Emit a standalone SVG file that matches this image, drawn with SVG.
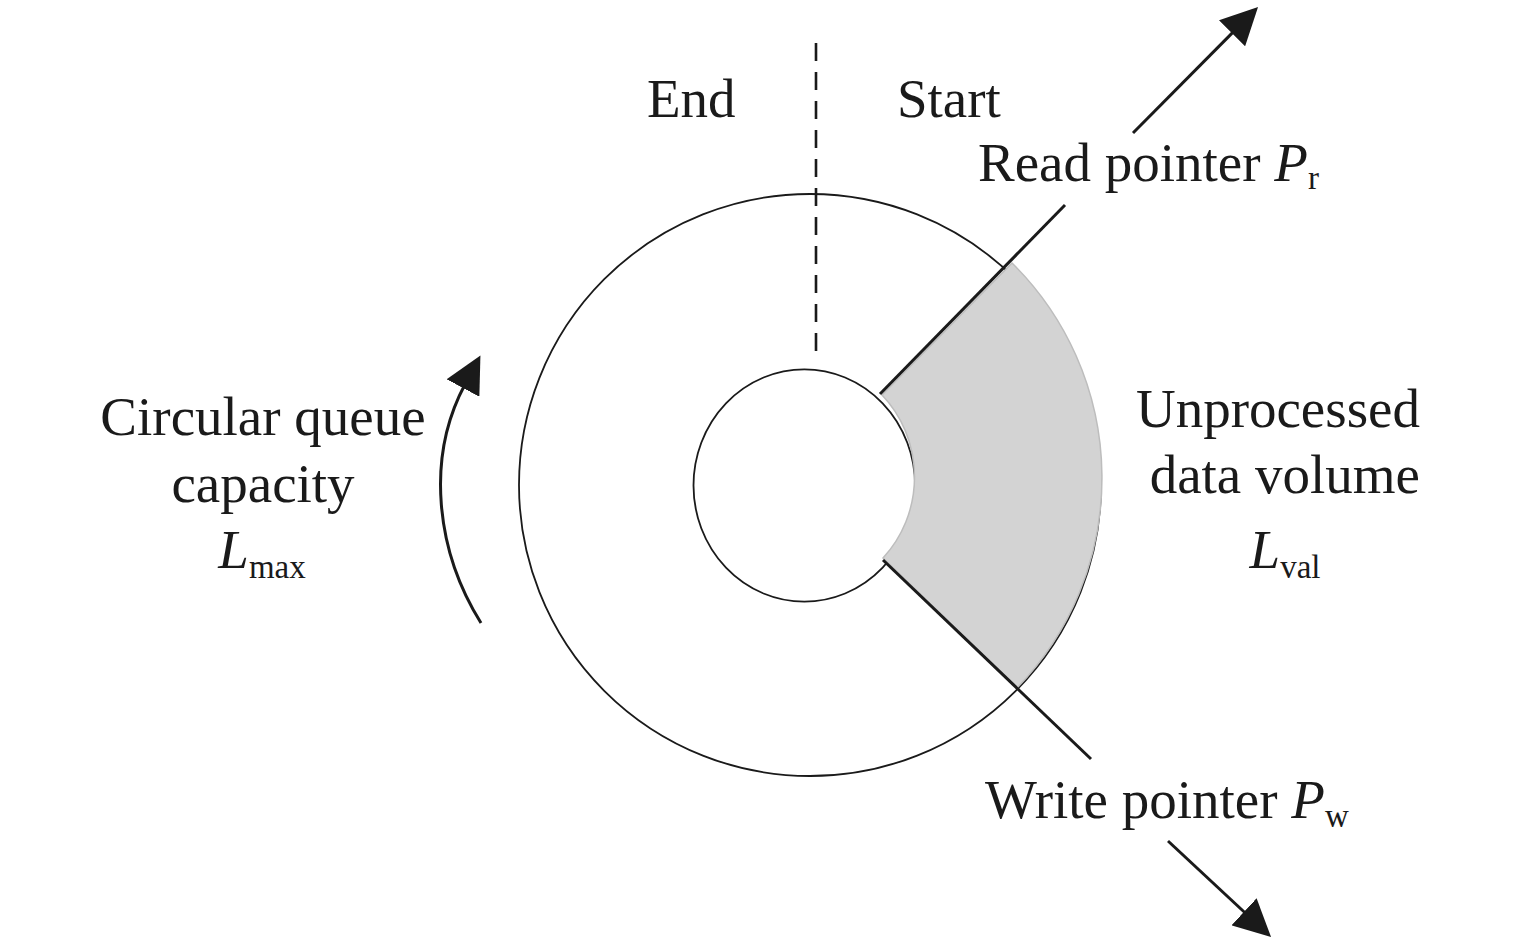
<svg xmlns="http://www.w3.org/2000/svg" width="1535" height="945" viewBox="0 0 1535 945">
<style>
  text { font-family: "Liberation Serif", "Times New Roman", serif; font-size: 55px; fill: #1a1a1a; }
  .it { font-style: italic; }
  .sub { font-size: 33px; }
  .ring { fill: #ffffff; stroke: #1a1a1a; stroke-width: 1.8; }
  .ptr { stroke: #1a1a1a; stroke-width: 3; fill: none; }
  .arr { stroke: #1a1a1a; stroke-width: 3; fill: none; marker-end: url(#ah); }
</style>
<defs>
  <marker id="ah" markerUnits="userSpaceOnUse" viewBox="0 0 37 37" markerWidth="37" markerHeight="37" refX="4" refY="18.5" orient="auto">
    <path d="M0,0 L37,18.5 L0,37 Z" fill="#1a1a1a"/>
  </marker>
</defs>
<rect width="1535" height="945" fill="#ffffff"/>

<g id="outer-ring">
  <circle class="ring" cx="810" cy="485" r="291"/>
</g>
<g id="inner-ring">
  <ellipse class="ring" cx="804.3" cy="485.5" rx="110.8" ry="116.2"/>
</g>
<g id="unprocessed-sector">
  <path d="M882,395 L1012,263 A302,302 0 0 1 1017,688 L883,558 A111,116 0 0 0 882,395 Z" fill="#d3d3d3" stroke="#bdbdbd" stroke-width="1.5"/>
</g>

<g id="connectors">
  <line x1="816" y1="43" x2="816" y2="356" stroke="#1a1a1a" stroke-width="2.6" stroke-dasharray="18 11"/>
  <line class="ptr" x1="880" y1="394" x2="1065" y2="205"/>
  <line class="ptr" x1="883" y1="560" x2="1091" y2="759"/>
  <line class="arr" x1="1133" y1="133" x2="1234.8" y2="30.4"/>
  <line class="arr" x1="1168" y1="841" x2="1246.9" y2="914.5"/>
  <path class="arr" d="M481,623 C436.2,551.3 425.4,458.6 464.9,384.5"/>
</g>

<g id="label-end"><text x="647" y="117">End</text></g>
<g id="label-start"><text x="897" y="117">Start</text></g>
<g id="label-read">
  <text x="978" y="181">Read pointer <tspan class="it">P</tspan><tspan class="sub" dy="8">r</tspan></text>
</g>
<g id="label-write">
  <text x="985" y="818">Write pointer <tspan class="it">P</tspan><tspan class="sub" dy="9">w</tspan></text>
</g>
<g id="label-capacity">
  <text x="263" y="435" text-anchor="middle">Circular queue</text>
  <text x="263" y="502" text-anchor="middle">capacity</text>
  <text x="262" y="568" text-anchor="middle"><tspan class="it">L</tspan><tspan class="sub" dy="10">max</tspan></text>
</g>
<g id="label-unprocessed">
  <text x="1420" y="427" text-anchor="end">Unprocessed</text>
  <text x="1420" y="493" text-anchor="end">data volume</text>
  <text x="1285" y="568" text-anchor="middle"><tspan class="it">L</tspan><tspan class="sub" dy="10">val</tspan></text>
</g>
</svg>
